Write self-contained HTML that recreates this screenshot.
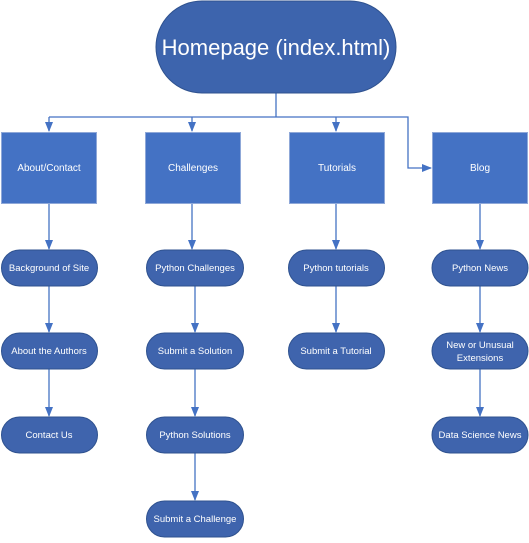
<!DOCTYPE html>
<html><head><style>
body{margin:0;background:#fff;width:529px;height:538px;overflow:hidden;font-family:"Liberation Sans",sans-serif}
svg text{font-family:"Liberation Sans",sans-serif;fill:#fff}
</style></head><body>
<svg width="529" height="538" viewBox="0 0 529 538" xmlns="http://www.w3.org/2000/svg">
<defs><marker id="a" markerWidth="10" markerHeight="8" refX="9" refY="4" orient="auto" markerUnits="userSpaceOnUse"><path d="M0,0 L10,4 L0,8 z" fill="#4472c4"/></marker></defs>
<g stroke="#4472c4" stroke-width="1.3" fill="none">
<path d="M276 93 V117"/>
<path d="M49 117 H408 V168 H431" marker-end="url(#a)"/>
<path d="M49 117 V131" marker-end="url(#a)"/>
<path d="M192 117 V131" marker-end="url(#a)"/>
<path d="M336 117 V131" marker-end="url(#a)"/>
<path d="M49 204 V249" marker-end="url(#a)"/>
<path d="M192 204 V249" marker-end="url(#a)"/>
<path d="M336 204 V249" marker-end="url(#a)"/>
<path d="M480 204 V249" marker-end="url(#a)"/>
<path d="M49 286 V332" marker-end="url(#a)"/>
<path d="M49 369 V416" marker-end="url(#a)"/>
<path d="M195 286 V332" marker-end="url(#a)"/>
<path d="M195 369 V416" marker-end="url(#a)"/>
<path d="M195 453 V500" marker-end="url(#a)"/>
<path d="M336 286 V332" marker-end="url(#a)"/>
<path d="M480 286 V332" marker-end="url(#a)"/>
<path d="M480 369 V416" marker-end="url(#a)"/>
</g>
<rect x="156" y="1" width="240" height="92" rx="46" fill="#3d64ad" stroke="#2f528f"/>
<text x="276" y="55" font-size="22" text-anchor="middle">Homepage (index.html)</text>
<g fill="#4472c4" stroke="#8fa8d8" stroke-width="1">
<rect x="1.5" y="132.5" width="95" height="71"/>
<rect x="145.5" y="132.5" width="95" height="71"/>
<rect x="289.5" y="132.5" width="95" height="71"/>
<rect x="432.5" y="132.5" width="95" height="71"/>
</g>
<g font-size="10" text-anchor="middle">
<text x="49" y="171">About/Contact</text>
<text x="193" y="171">Challenges</text>
<text x="337" y="171">Tutorials</text>
<text x="480" y="171">Blog</text>
</g>
<g fill="#3f64ad" stroke="#2f528f" stroke-width="1">
<rect x="1.5" y="250" width="96" height="36" rx="18"/>
<rect x="1.5" y="333" width="96" height="36" rx="18"/>
<rect x="1.5" y="417" width="96" height="36" rx="18"/>
<rect x="146.5" y="250" width="97" height="36" rx="18"/>
<rect x="146.5" y="333" width="97" height="36" rx="18"/>
<rect x="146.5" y="417" width="97" height="36" rx="18"/>
<rect x="146.5" y="501" width="97" height="36" rx="18"/>
<rect x="288.5" y="250" width="96" height="36" rx="18"/>
<rect x="288.5" y="333" width="96" height="36" rx="18"/>
<rect x="432" y="250" width="96" height="36" rx="18"/>
<rect x="432" y="333" width="96" height="36" rx="18"/>
<rect x="432" y="417" width="96" height="36" rx="18"/>
</g>
<g font-size="9.5" text-anchor="middle">
<text x="49" y="271">Background of Site</text>
<text x="49" y="354">About the Authors</text>
<text x="49" y="438">Contact Us</text>
<text x="195" y="271">Python Challenges</text>
<text x="195" y="354">Submit a Solution</text>
<text x="195" y="438">Python Solutions</text>
<text x="195" y="522">Submit a Challenge</text>
<text x="336" y="271">Python tutorials</text>
<text x="336" y="354">Submit a Tutorial</text>
<text x="480" y="271">Python News</text>
<text x="480" y="348">New or Unusual</text>
<text x="480" y="361">Extensions</text>
<text x="480" y="438">Data Science News</text>
</g>
</svg>
</body></html>
